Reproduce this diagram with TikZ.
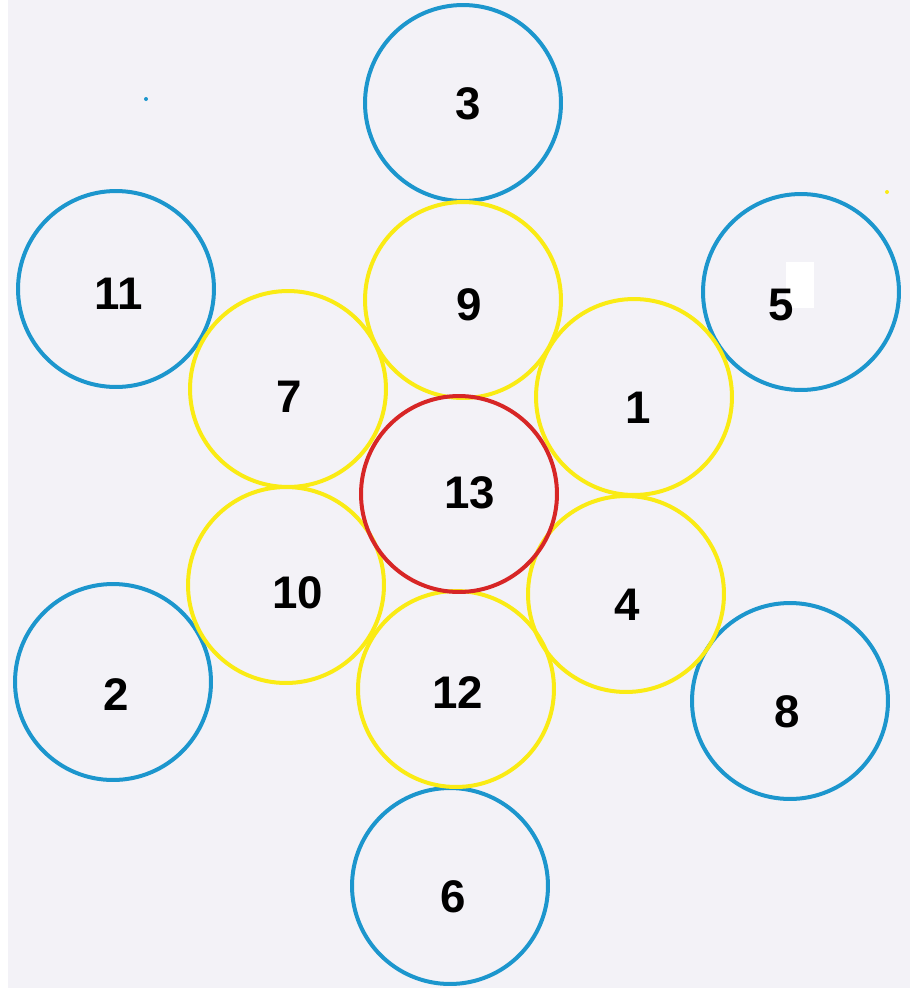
\documentclass[tikz,border=0pt]{standalone}
\usepackage{fontspec}
\setmainfont{Liberation Sans}
\usepackage{xcolor}
\usepackage{tikz}
\usetikzlibrary{positioning}

\definecolor{paper}{RGB}{243,242,247}
\definecolor{ringblue}{RGB}{28,150,205}
\definecolor{ringyellow}{RGB}{250,235,20}
\definecolor{ringred}{RGB}{215,38,38}

\begin{document}
\begin{tikzpicture}[
  x=0.02cm, y=-0.02cm,
  ring/.style={draw=#1, circle, minimum size=3.92cm, inner sep=0pt, line width=0.08cm},
  num/.style={font=\fontsize{26}{30}\selectfont\bfseries, inner sep=0pt},
]
\useasboundingbox (0,0) rectangle (910,988);
\fill[white] (0,0) rectangle (910,988);
\fill[paper] (8,0) rectangle (910,988);

% ── outer ring (blue) ──
\node[ring=ringblue] (c3)  at (463,103) {};
\node[ring=ringblue] (c11) at (116,289) {};
\node[ring=ringblue] (c5)  at (801,292) {};
\node[ring=ringblue] (c2)  at (113,682) {};
\node[ring=ringblue] (c8)  at (790,701) {};
\node[ring=ringblue] (c6)  at (450,886) {};

% ── inner ring (yellow) ──
\node[ring=ringyellow] (c9)  at (463,300) {};
\node[ring=ringyellow] (c7)  at (288,389) {};
\node[ring=ringyellow] (c1)  at (634,397) {};
\node[ring=ringyellow] (c10) at (286,585) {};
\node[ring=ringyellow] (c4)  at (626,594) {};
\node[ring=ringyellow] (c12) at (456,689) {};

% ── centre (red) ──
\node[ring=ringred] (c13) at (459,494) {};

% white patch and specks from the scan
\fill[white] (786,262) rectangle (814,308);
\fill[ringblue] (146,99) circle (2);
\fill[ringyellow] (887,192) circle (2);

% ── numbers ──
\node[num] (t3)  at (468,104) {3};
\node[num] (t11) at (119,294) {11};
\node[num] (t5)  at (781,305) {5};
\node[num] (t2)  at (116,695) {2};
\node[num] (t8)  at (787,712) {8};
\node[num] (t6)  at (453,897) {6};
\node[num] (t9)  at (469,305) {9};
\node[num] (t7)  at (289,397) {7};
\node[num] (t1)  at (638,408) {1};
\node[num] (t10) at (298,593) {10};
\node[num] (t4)  at (627,605) {4};
\node[num] (t12) at (458,693) {12};
\node[num] (t13) at (470,493) {13};
\end{tikzpicture}
\end{document}
